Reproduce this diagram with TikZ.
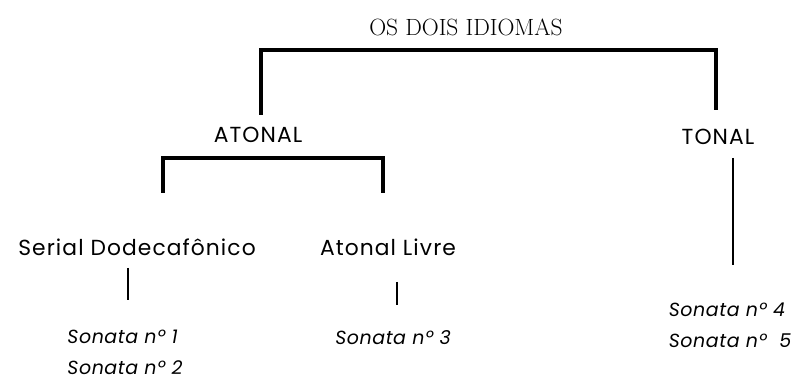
\documentclass[tikz,border=0pt]{standalone}
\usepackage{fontspec}
\usepackage{tikz}
\usetikzlibrary{positioning, calc}
\setsansfont{Poppins}

\begin{document}
\begin{tikzpicture}[x=0.025cm, y=-0.025cm, every node/.style={align=center, inner sep=0pt},
  title/.style={font=\fontsize{16.7}{19}\selectfont},
  branch/.style={font=\sffamily\fontsize{15.5}{18}\selectfont\addfontfeature{LetterSpace=5}},
  work/.style={font=\sffamily\itshape\fontsize{13.5}{22}\selectfont\addfontfeature{LetterSpace=3}, align=left},
  bracket/.style={line width=2.2pt},
  stem/.style={line width=0.9pt}]
  \useasboundingbox (0,0) rectangle (803,379);
  % Title and the two idioms
  \node[title] (idiomas) at (466,27) {OS DOIS IDIOMAS};
  \node[branch] (atonal) at (258,135) {ATONAL};
  \node[branch] (tonal) at (718,137) {TONAL};
  % Atonal branches
  \node[branch] (serial) at (137,247) {Serial Dodecafônico};
  \node[branch] (livre) at (388,247) {Atonal Livre};
  % Works
  \node[work] (s12) at (125,352) {Sonata nº 1\\Sonata nº 2};
  \node[work] (s3) at (393,338) {Sonata nº 3};
  \node[work] (s45) at (730,325) {Sonata nº 4\\Sonata nº\ \ 5};
  % Bracket ends
  \coordinate (topbar) at (488,50);
  \coordinate (atonalend) at (261,115);
  \coordinate (tonalend) at (716,110);
  \coordinate (midbar) at (273,158);
  \coordinate (serialend) at (163,193);
  \coordinate (livreend) at (383,193);
  \draw[bracket] (atonalend) |- (topbar) -| (tonalend);
  \draw[bracket] (serialend) |- (midbar) -| (livreend);
  % Stems
  \coordinate (serialstem) at (128,268);
  \coordinate (s12stem) at (128,300);
  \coordinate (livrestem) at (397,282);
  \coordinate (s3stem) at (397,305);
  \coordinate (tonalstem) at (733,158);
  \coordinate (s45stem) at (733,265);
  \draw[stem] (serialstem) -- (s12stem);
  \draw[stem] (livrestem) -- (s3stem);
  \draw[stem] (tonalstem) -- (s45stem);
\end{tikzpicture}
\end{document}
